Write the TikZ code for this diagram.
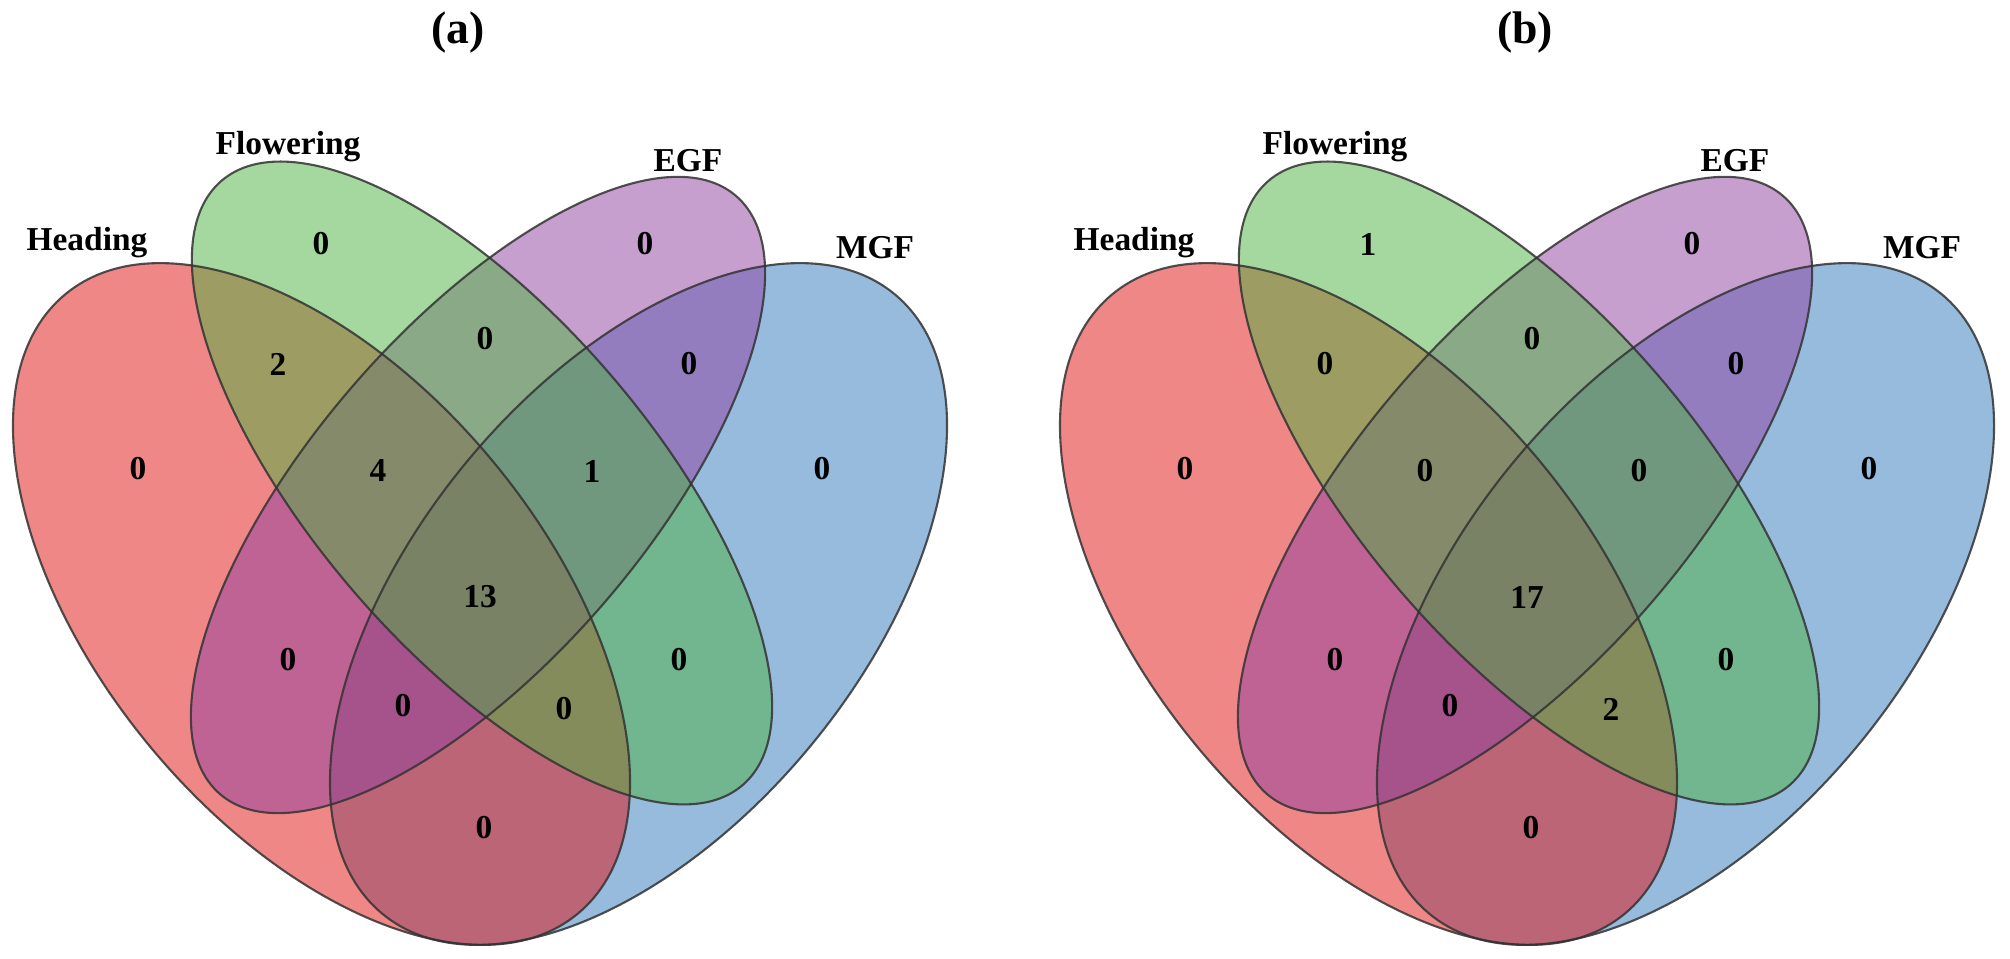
\documentclass[tikz,border=0pt]{standalone}
\usepackage{fontspec}
\setmainfont{Liberation Serif}
\definecolor{cRed}{RGB}{225,17,17}
\definecolor{cGreen}{RGB}{77,179,65}
\definecolor{cPurple}{RGB}{145,65,161}
\definecolor{cBlue}{RGB}{49,121,187}
\newcommand\myvennshapes{%
  \fill[cBlue,fill opacity=0.5,rotate around={50.4:(638.5,354)}] (638.5,354) ellipse (402 and 223);
  \fill[cRed,fill opacity=0.5,rotate around={-50.4:(321.5,354)}] (321.5,354) ellipse (402 and 223);
  \fill[cPurple,fill opacity=0.5,rotate around={49.2:(478,463)}] (478,463) ellipse (395 and 166);
  \fill[cGreen,fill opacity=0.5,rotate around={-49.2:(482,475)}] (482,475) ellipse (399 and 168);
  \draw[outl,rotate around={-50.4:(321.5,354)}] (321.5,354) ellipse (402 and 223);
  \draw[outl,rotate around={-49.2:(482,475)}] (482,475) ellipse (399 and 168);
  \draw[outl,rotate around={49.2:(478,463)}] (478,463) ellipse (395 and 166);
  \draw[outl,rotate around={50.4:(638.5,354)}] (638.5,354) ellipse (402 and 223);
  \node[lab] at (87,715) {Heading};
  \node[lab] at (288,811) {Flowering};
  \node[lab] at (688,797) {EGF};
  \node[lab] at (875,710) {MGF};
}
\begin{document}
\begin{tikzpicture}[x=0.01cm,y=0.01cm,
  outl/.style={draw=black!80,line width=0.6pt,draw opacity=0.85},
  lab/.style={font=\bfseries\fontsize{9.5}{10}\selectfont},
  num/.style={font=\bfseries\fontsize{9.5}{10}\selectfont},
  ttl/.style={font=\bfseries\fontsize{13}{14}\selectfont}]
\useasboundingbox (0,0) rectangle (2010,958);
\fill[white] (0,0) rectangle (2010,958);
% panel (a)
\begin{scope}
\myvennshapes
\node[ttl] (ta) at (458,925) {(a)};
\node[num] (a1) at (138,489) {0};
\node[num] (a2) at (321,714) {0};
\node[num] (a3) at (645,714) {0};
\node[num] (a4) at (822,489) {0};
\node[num] (a5) at (278,594) {2};
\node[num] (a6) at (485,619) {0};
\node[num] (a7) at (689,594) {0};
\node[num] (a8) at (378,487) {4};
\node[num] (a9) at (592,487) {1};
\node[num] (a10) at (480,361) {13};
\node[num] (a11) at (288,298) {0};
\node[num] (a12) at (679,298) {0};
\node[num] (a13) at (403,252) {0};
\node[num] (a14) at (564,249) {0};
\node[num] (a15) at (484,130) {0};
\end{scope}
% panel (b)
\begin{scope}[shift={(1047,0)}]
\myvennshapes
\node[ttl] (tb) at (478,925) {(b)};
\node[num] (b1) at (138,489) {0};
\node[num] (b2) at (321,714) {1};
\node[num] (b3) at (645,714) {0};
\node[num] (b4) at (822,489) {0};
\node[num] (b5) at (278,594) {0};
\node[num] (b6) at (485,619) {0};
\node[num] (b7) at (689,594) {0};
\node[num] (b8) at (378,487) {0};
\node[num] (b9) at (592,487) {0};
\node[num] (b10) at (480,361) {17};
\node[num] (b11) at (288,298) {0};
\node[num] (b12) at (679,298) {0};
\node[num] (b13) at (403,252) {0};
\node[num] (b14) at (564,249) {2};
\node[num] (b15) at (484,130) {0};
\end{scope}
\end{tikzpicture}
\end{document}
